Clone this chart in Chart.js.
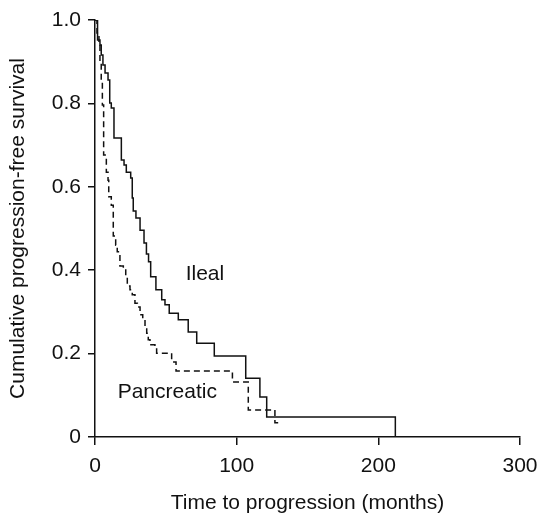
<!DOCTYPE html>
<html lang="en">
<head>
    <meta charset="UTF-8">
    <title>Progression-free survival</title>
    <script src="https://cdn.jsdelivr.net/npm/chart.js"></script>
    <style>
        html, body { margin: 0; padding: 0; background: #fff; }
        .wrap { width: 540px; height: 516px; }
    </style>
</head>
<body>
    <div class="wrap">
        <canvas id="pfsChart" width="540" height="516"></canvas>
    </div>

    <script>
        // Kaplan-Meier steps (months, survival after drop)
        const ilealTimes = [0, 1.8, 3.5, 4.4, 5.6, 7.1, 9.2, 10.4, 11.5, 13.4, 18.6, 20.5, 22.1, 25.2, 26.3, 27.0, 28.9, 31.8, 34.6, 36.3, 37.8, 39.3, 43.0, 47.1, 49.4, 52.4, 58.8, 65.8, 71.8, 84.2, 106.4, 116.4, 121.2, 212];
        const ilealSurv = [1.0, 0.952, 0.940, 0.916, 0.892, 0.873, 0.856, 0.801, 0.789, 0.717, 0.664, 0.652, 0.635, 0.621, 0.573, 0.542, 0.525, 0.496, 0.465, 0.439, 0.420, 0.384, 0.353, 0.329, 0.317, 0.297, 0.281, 0.252, 0.225, 0.194, 0.141, 0.096, 0.048, 0];

        const pancTimes = [0, 1.4, 2.8, 3.5, 4.4, 5.2, 6.1, 8.0, 9.2, 9.7, 11.5, 12.9, 14.6, 15.7, 17.6, 20.0, 21.7, 22.8, 24.7, 26.3, 28.2, 29.9, 31.8, 33.7, 35.3, 36.5, 37.6, 38.8, 42.3, 43.5, 54.1, 57.2, 97.0, 108.2, 127.0, 130];
        const pancSurv = [1.0, 0.969, 0.945, 0.899, 0.856, 0.796, 0.676, 0.635, 0.616, 0.576, 0.556, 0.482, 0.460, 0.444, 0.410, 0.403, 0.384, 0.362, 0.353, 0.341, 0.321, 0.312, 0.293, 0.281, 0.264, 0.249, 0.233, 0.221, 0.213, 0.201, 0.180, 0.158, 0.132, 0.065, 0.034, 0.034];

        const xTicks = [0, 100, 200, 300];
        const yTicks = [0, 0.2, 0.4, 0.6, 0.8, 1.0];

        // text labels placed in data units
        const curveLabels = [
            { text: 'Ileal', x: 64, y: 0.39 },
            { text: 'Pancreatic', x: 16, y: 0.108 }
        ];

        const toPoints = (xs, ys) => xs.map((x, i) => ({ x: x, y: ys[i] }));

        const fontFamily = '"Liberation Sans", Arial, Helvetica, sans-serif';
        const fontSize = 21;
        const ink = '#111';

        const curveLabelPlugin = {
            id: 'curveLabels',
            afterDatasetsDraw(chart) {
                const ctx = chart.ctx;
                const xs = chart.scales.x, ys = chart.scales.y;
                ctx.save();
                ctx.fillStyle = ink;
                ctx.font = fontSize + 'px ' + fontFamily;
                ctx.textBaseline = 'middle';
                curveLabels.forEach(l => {
                    ctx.fillText(l.text, xs.getPixelForValue(l.x), ys.getPixelForValue(l.y));
                });
                ctx.restore();
            }
        };

        new Chart(document.getElementById('pfsChart'), {
            type: 'line',
            data: {
                datasets: [
                    {
                        label: 'Ileal',
                        data: toPoints(ilealTimes, ilealSurv),
                        borderColor: ink,
                        borderWidth: 1.5,
                        stepped: 'before',
                        pointRadius: 0,
                        fill: false
                    },
                    {
                        label: 'Pancreatic',
                        data: toPoints(pancTimes, pancSurv),
                        borderColor: ink,
                        borderWidth: 1.5,
                        borderDash: [6, 4],
                        stepped: 'before',
                        pointRadius: 0,
                        fill: false
                    }
                ]
            },
            options: {
                responsive: false,
                animation: false,
                layout: { padding: { left: 0, right: 20, top: 20, bottom: 0 } },
                plugins: {
                    legend: { display: false },
                    tooltip: { enabled: false }
                },
                scales: {
                    x: {
                        type: 'linear',
                        min: 0,
                        max: 300,
                        afterBuildTicks: s => { s.ticks = xTicks.map(v => ({ value: v })); },
                        afterFit: s => { s.height = 79; s.paddingLeft = 0; s.paddingRight = 0; },
                        grid: { drawOnChartArea: false, tickLength: 8, color: ink, lineWidth: 1.5 },
                        border: { color: ink, width: 1.5 },
                        ticks: { color: ink, padding: 9, font: { family: fontFamily, size: fontSize } },
                        title: {
                            display: true,
                            text: 'Time to progression (months)',
                            color: ink,
                            font: { family: fontFamily, size: fontSize },
                            padding: { top: 0, bottom: 0 }
                        }
                    },
                    y: {
                        type: 'linear',
                        min: 0,
                        max: 1,
                        afterBuildTicks: s => { s.ticks = yTicks.map(v => ({ value: v })); },
                        afterFit: s => { s.width = 95; s.paddingTop = 0; s.paddingBottom = 0; },
                        grid: { drawOnChartArea: false, tickLength: 7, color: ink, lineWidth: 1.5 },
                        border: { color: ink, width: 1.5 },
                        ticks: {
                            color: ink,
                            padding: 7,
                            font: { family: fontFamily, size: fontSize },
                            callback: v => v === 0 ? '0' : v.toFixed(1)
                        },
                        title: {
                            display: true,
                            text: 'Cumulative progression-free survival',
                            color: ink,
                            font: { family: fontFamily, size: fontSize },
                            padding: { top: 6, bottom: 0 }
                        }
                    }
                }
            },
            plugins: [curveLabelPlugin]
        });
    </script>
</body>
</html>
